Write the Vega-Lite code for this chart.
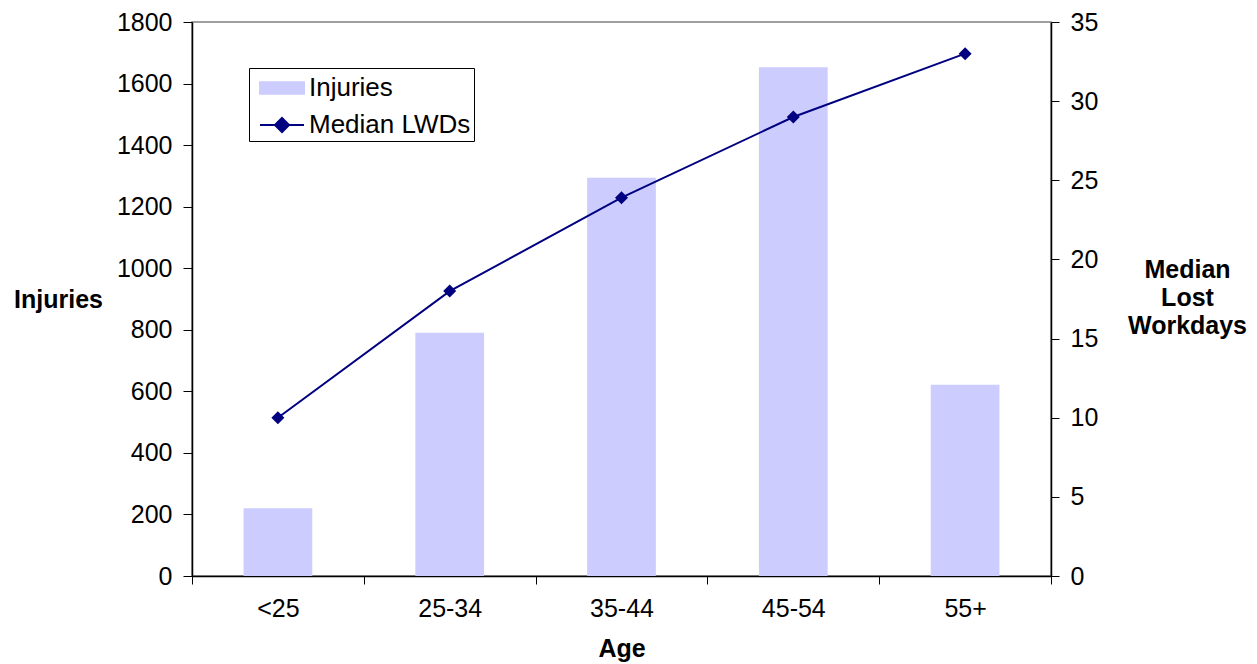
{
  "$schema": "https://vega.github.io/schema/vega-lite/v6.json",
  "width": 859,
  "height": 554,
  "autosize": {"type": "none"},
  "padding": {"left": 192, "top": 22, "right": 206, "bottom": 88},
  "background": "white",
  "config": {
    "font": "Liberation Sans",
    "view": {"stroke": "#808080", "strokeWidth": 1.5},
    "axis": {
      "labelFont": "Liberation Sans",
      "labelFontSize": 25,
      "labelColor": "#000000",
      "titleFont": "Liberation Sans",
      "titleFontSize": 25,
      "titleFontWeight": "bold",
      "titleColor": "#000000",
      "domainColor": "#000000",
      "domainWidth": 1.5,
      "tickColor": "#000000",
      "tickWidth": 1,
      "grid": false
    },
    "legend": {
      "labelFont": "Liberation Sans",
      "labelFontSize": 26,
      "labelColor": "#000000",
      "labelLimit": 400
    }
  },
  "data": {
    "values": [
      {"age": "<25", "injuries": 220, "lwd": 10},
      {"age": "25-34", "injuries": 790, "lwd": 18},
      {"age": "35-44", "injuries": 1294, "lwd": 23.9},
      {"age": "45-54", "injuries": 1653, "lwd": 29},
      {"age": "55+", "injuries": 621, "lwd": 33}
    ]
  },
  "encoding": {
    "x": {
      "field": "age",
      "type": "nominal",
      "sort": null,
      "scale": {"paddingInner": 0, "paddingOuter": 0},
      "axis": {
        "title": "Age",
        "labelAngle": 0,
        "tickBand": "extent",
        "tickSize": 8,
        "labelPadding": 12,
        "titleX": 429.5,
        "titleY": 72,
        "titleBaseline": "middle",
        "titleAlign": "center"
      }
    }
  },
  "layer": [
    {
      "mark": {"type": "bar", "width": {"band": 0.4}},
      "encoding": {
        "y": {
          "field": "injuries",
          "type": "quantitative",
          "scale": {"domain": [0, 1800], "nice": false},
          "axis": {
            "title": "Injuries",
            "format": "d",
            "values": [0, 200, 400, 600, 800, 1000, 1200, 1400, 1600, 1800],
            "tickSize": 9,
            "labelPadding": 11,
            "titleAngle": 0,
            "titleX": -134,
            "titleY": 277,
            "titleAlign": "center",
            "titleBaseline": "middle"
          }
        },
        "color": {
          "datum": "Injuries",
          "type": "nominal",
          "scale": {"domain": ["Injuries", "Median LWDs"], "range": ["#ccccff", "#000080"]},
          "legend": {
            "title": null,
            "orient": "none",
            "legendX": 57,
            "legendY": 46,
            "padding": 3,
            "strokeColor": "#000000",
            "fillColor": "#ffffff",
            "symbolSize": 1024,
            "symbolStrokeWidth": 2,
            "rowPadding": 7,
            "labelOffset": 10,
            "labelLimit": 400,
            "symbolOffset": 13,
            "encode": {
              "symbols": {
                "update": {
                  "shape": {"signal": "datum.value === 'Injuries' ? 'M-1.375,-0.36H1.375V0.36H-1.375Z' : 'M-1.375,0H1.375M0,-0.44L0.44,0L0,0.44L-0.44,0Z'"},
                  "fill": {"signal": "datum.value === 'Injuries' ? '#ccccff' : '#000080'"},
                  "stroke": {"signal": "datum.value === 'Injuries' ? 'transparent' : '#000080'"},
                  "strokeWidth": {"value": 2},
                  "opacity": {"value": 1},
                  "fillOpacity": {"value": 1}
                }
              }
            }
          }
        }
      }
    },
    {
      "mark": {
        "type": "line",
        "strokeWidth": 2,
        "point": {"shape": "diamond", "size": 169, "filled": true, "opacity": 1}
      },
      "encoding": {
        "y": {
          "field": "lwd",
          "type": "quantitative",
          "scale": {"domain": [0, 35], "nice": false},
          "axis": {
            "orient": "right",
            "title": ["Median", "Lost", "Workdays"],
            "values": [0, 5, 10, 15, 20, 25, 30, 35],
            "tickSize": 8,
            "labelPadding": 11,
            "titleAngle": 0,
            "titleX": 136,
            "titleY": 247,
            "titleAlign": "center",
            "titleBaseline": "middle",
            "titleLineHeight": 28
          }
        },
        "color": {"datum": "Median LWDs", "type": "nominal"}
      }
    }
  ],
  "resolve": {"scale": {"y": "independent"}}
}
